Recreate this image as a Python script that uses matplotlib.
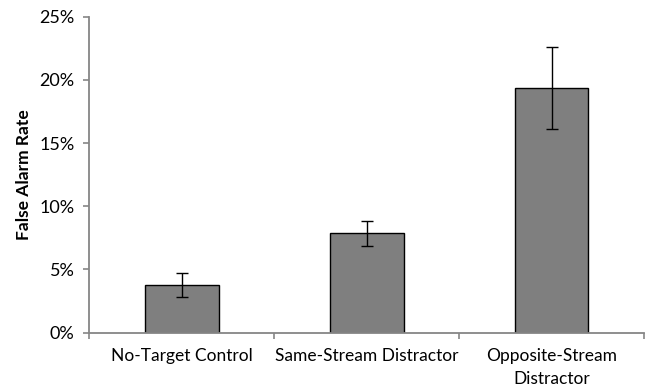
import matplotlib
matplotlib.use("Agg")
import matplotlib.pyplot as plt
from matplotlib.ticker import FuncFormatter, MultipleLocator, FixedLocator

plt.rcParams['font.family'] = ['Lato', 'DejaVu Sans']

# false alarm rates (%) and standard errors per condition
conditions = ["No-Target Control", "Same-Stream Distractor", "Opposite-Stream\nDistractor"]
rates = [3.77, 7.86, 19.34]
errors = [0.93, 1.0, 3.24]

axis_grey = "#868686"

fig = plt.figure(figsize=(6.46, 3.92), dpi=100)
ax = fig.add_axes([0.1378, 0.1513, 0.8591, 0.8061])

x = list(range(len(conditions)))
ax.bar(x, rates, width=0.4, color="#7f7f7f", edgecolor="black", linewidth=1.0, zorder=2)
ax.errorbar(x, rates, yerr=errors, fmt="none", ecolor="black", elinewidth=1.0,
            capsize=4, capthick=1.0, zorder=3)

ax.set_xlim(-0.5, len(conditions) - 0.5)
ax.set_ylim(0, 25)
ax.yaxis.set_major_locator(MultipleLocator(5))
ax.yaxis.set_major_formatter(FuncFormatter(lambda v, p: f"{v:.0f}%"))

# category labels sit between the boundary ticks, Excel style
ax.set_xticks(x)
ax.set_xticklabels(conditions, fontsize=12.5, va="top", linespacing=1.55)
ax.tick_params(axis="x", which="major", length=0, pad=11)
ax.xaxis.set_minor_locator(FixedLocator([i - 0.5 for i in range(len(conditions) + 1)]))
ax.tick_params(axis="x", which="minor", length=4.5, color=axis_grey, width=1.2, direction="out")
ax.tick_params(axis="y", length=4.5, color=axis_grey, width=1.2, labelsize=13, pad=6)

for side in ("top", "right"):
    ax.spines[side].set_visible(False)
for side in ("left", "bottom"):
    ax.spines[side].set_color(axis_grey)
    ax.spines[side].set_linewidth(1.3)

ax.set_ylabel("False Alarm Rate", fontsize=12.5, fontweight="bold", labelpad=5)

fig.savefig("out.png", dpi=100)
